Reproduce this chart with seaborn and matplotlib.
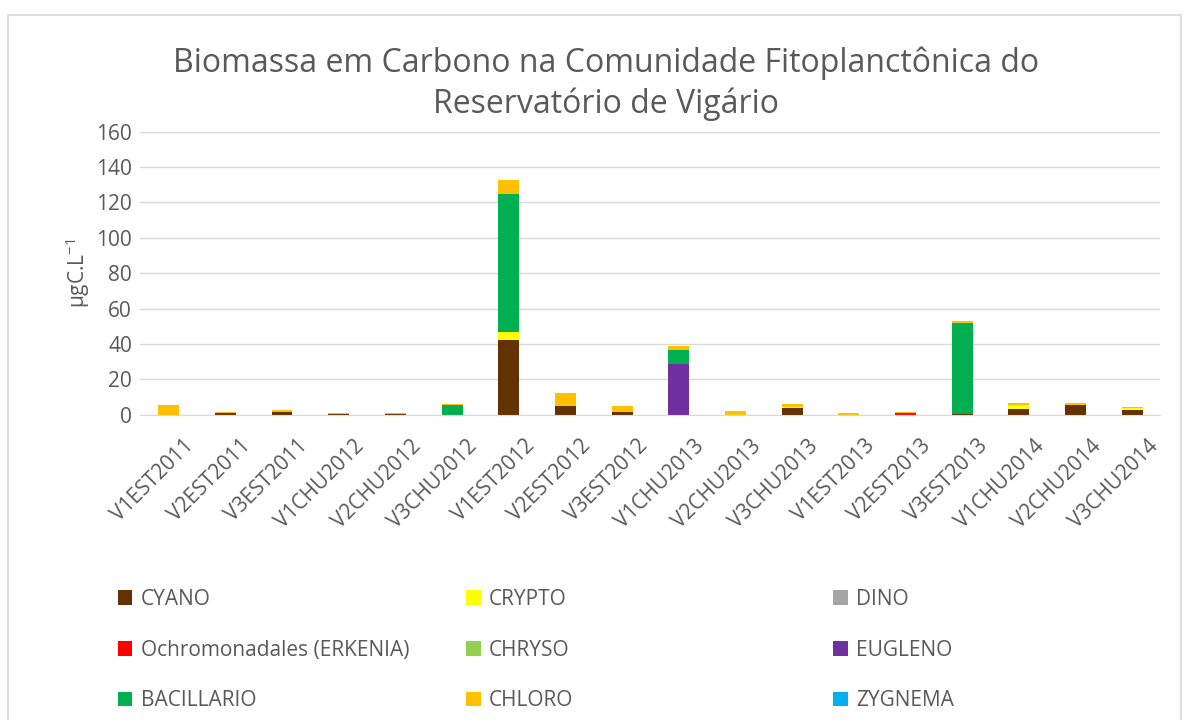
import numpy as np
import pandas as pd
import matplotlib
matplotlib.use('Agg')
import matplotlib.pyplot as plt
import matplotlib.transforms as mtransforms
from matplotlib.patches import Rectangle, Patch
import seaborn as sns

sns.set_style('white')
plt.rcParams['font.family'] = ['Open Sans', 'DejaVu Sans']

# amostras
amostras = ['V1EST2011', 'V2EST2011', 'V3EST2011', 'V1CHU2012', 'V2CHU2012', 'V3CHU2012',
            'V1EST2012', 'V2EST2012', 'V3EST2012', 'V1CHU2013', 'V2CHU2013', 'V3CHU2013',
            'V1EST2013', 'V2EST2013', 'V3EST2013', 'V1CHU2014', 'V2CHU2014', 'V3CHU2014']

# biomassa por grupo (µgC/L)
cyano      = [0.0, 0.8, 1.8, 0.3, 0.6, 0.0, 42.5, 4.7, 1.7, 0.0, 0.0, 3.7, 0.0, 0.0, 0.4, 3.4, 5.3, 2.4]
crypto     = [0.0, 0.0, 0.0, 0.0, 0.0, 0.0, 4.5, 0.0, 0.0, 0.0, 0.0, 0.8, 0.0, 0.0, 0.0, 2.2, 0.0, 1.6]
dino       = [0.0] * 18
ochro      = [0.0, 0.0, 0.0, 0.0, 0.0, 0.0, 0.0, 0.0, 0.0, 0.0, 0.0, 0.0, 0.0, 0.7, 0.0, 0.0, 0.0, 0.0]
chryso     = [0.0] * 18
eugleno    = [0.0, 0.0, 0.0, 0.0, 0.0, 0.0, 0.0, 0.0, 0.0, 28.8, 0.0, 0.0, 0.0, 0.0, 0.0, 0.0, 0.0, 0.0]
bacillario = [0.0, 0.0, 0.0, 0.0, 0.0, 5.5, 78.0, 0.0, 0.0, 8.0, 0.0, 0.0, 0.0, 0.0, 51.5, 0.0, 0.0, 0.0]
chloro     = [5.6, 0.6, 1.0, 0.4, 0.4, 0.8, 8.0, 7.5, 3.4, 2.3, 2.2, 1.6, 1.1, 1.0, 1.1, 1.2, 1.5, 0.5]
zygnema    = [0.0] * 18

grupos = ['CYANO', 'CRYPTO', 'DINO', 'Ochromonadales (ERKENIA)', 'CHRYSO',
          'EUGLENO', 'BACILLARIO', 'CHLORO', 'ZYGNEMA']
cores = ['#633200', '#FFFF00', '#A5A5A5', '#FF0000', '#92D050',
         '#7030A0', '#00B050', '#FFC000', '#00B0F0']

df = pd.DataFrame({'Amostra': amostras, 'CYANO': cyano, 'CRYPTO': crypto, 'DINO': dino,
                   'Ochromonadales (ERKENIA)': ochro, 'CHRYSO': chryso, 'EUGLENO': eugleno,
                   'BACILLARIO': bacillario, 'CHLORO': chloro, 'ZYGNEMA': zygnema})

# acumulado para empilhar
acum = df[grupos].cumsum(axis=1)

fig = plt.figure(figsize=(11.89, 7.2), dpi=100)
ax = fig.add_axes([0.118, 0.424, 0.858, 0.393])

# desenha do topo para a base
for g, c in reversed(list(zip(grupos, cores))):
    sns.barplot(x=df['Amostra'], y=acum[g], color=c, width=0.37, ax=ax,
                saturation=1, linewidth=0, errorbar=None)

ax.set_ylim(0, 160)
ax.set_yticks(range(0, 161, 20))
ax.set_xlim(-0.5, len(amostras) - 0.5)
ax.yaxis.grid(True, color='#D9D9D9', linewidth=1)
ax.set_axisbelow(True)
for s in ['top', 'right', 'left']:
    ax.spines[s].set_visible(False)
ax.spines['bottom'].set_color('#D9D9D9')
ax.tick_params(axis='y', length=0, labelsize=15, colors='#595959', pad=6)
ax.tick_params(axis='x', length=0, labelsize=15, colors='#595959', pad=15)
ax.set_xlabel('')
ax.set_ylabel('µgC.L$^{\\mathregular{-1}}$', fontsize=15, color='#595959')
ax.yaxis.set_label_coords(-0.047, 0.5)

offset = mtransforms.ScaledTranslation(0.15, 0.0, fig.dpi_scale_trans)
for lab in ax.get_xticklabels():
    lab.set_rotation(45)
    lab.set_ha('right')
    lab.set_va('top')
    lab.set_rotation_mode('anchor')
    lab.set_transform(lab.get_transform() + offset)

fig.text(0.51, 0.884, 'Biomassa em Carbono na Comunidade Fitoplanctônica do\nReservatório de Vigário',
         ha='center', va='center', fontsize=23, color='#595959', linespacing=1.3)

# legenda em 3 colunas (ordem por linhas)
handles = [Patch(facecolor=c, edgecolor='none') for c in cores]
xs_leg = [0.099, 0.392, 0.701]
for k, x0 in enumerate(xs_leg):
    idx = [k, k + 3, k + 6]
    leg = fig.legend([handles[i] for i in idx], [grupos[i] for i in idx],
                     loc='upper left', bbox_to_anchor=(x0, 0.182), frameon=False,
                     fontsize=15, labelcolor='#595959', handlelength=0.7, handleheight=0.7,
                     handletextpad=0.4, labelspacing=1.42, borderpad=0, borderaxespad=0)

# moldura do gráfico
fig.patches.append(Rectangle((8 / 1189, -0.05), 1173 / 1189, 1.0 - 15 / 720 + 0.05,
                             transform=fig.transFigure, fill=False,
                             edgecolor='#D9D9D9', linewidth=1.2))

fig.savefig('out.png', dpi=100)
